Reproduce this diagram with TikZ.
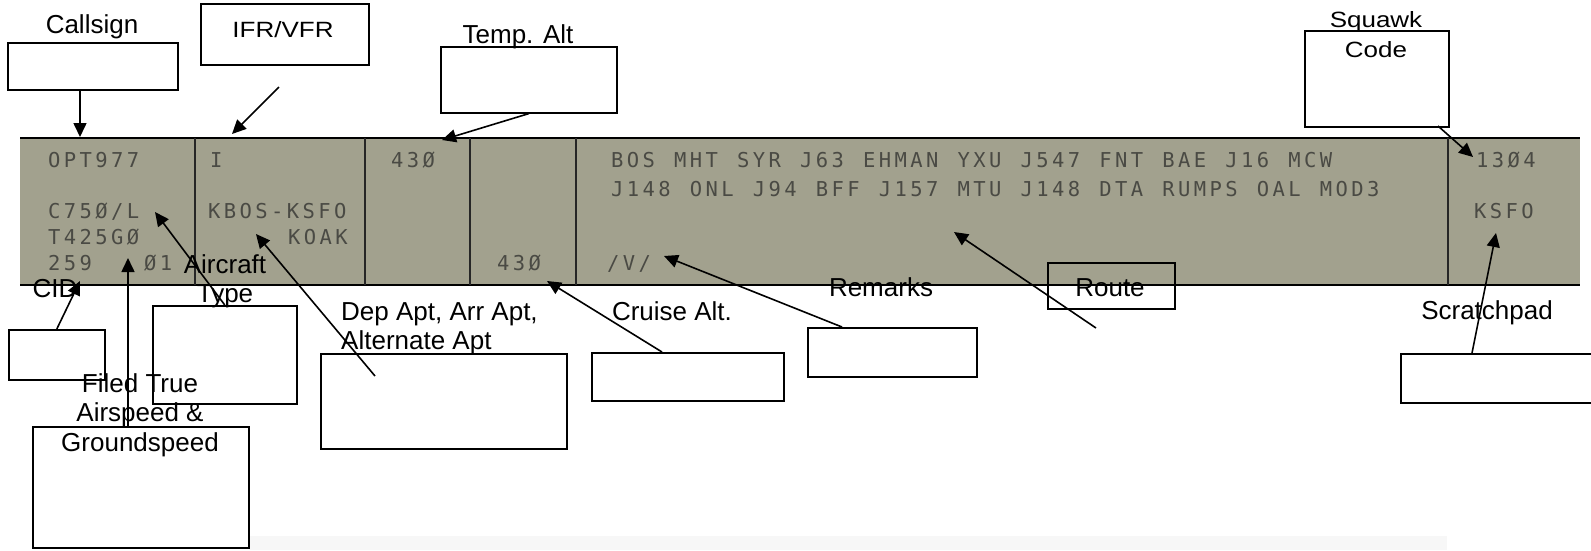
\documentclass[tikz,border=0pt]{standalone}
\usepackage{fontspec}
\usepackage{graphicx}
\setmainfont{Liberation Sans}
\newfontfamily\stripfont{DejaVu Sans Mono}
\usetikzlibrary{arrows.meta}
\definecolor{ink}{HTML}{000000}
\definecolor{strip}{HTML}{A2A18E}
\definecolor{crt}{HTML}{4A4A44}
\definecolor{haze}{HTML}{F7F7F7}

% fixed pitch cells for the strip text
\ExplSyntaxOn
\NewDocumentCommand\cells{m}{\str_map_inline:nn{#1}{\makebox[15.75pt][l]{##1}}}
\ExplSyntaxOff
\newcommand\lines[2]{\begin{tabular}[t]{@{}#1@{}}#2\end{tabular}}

\tikzset{
  field/.style={draw=ink,line width=1.6pt,inner sep=0pt,anchor=north west},
  tag/.style={font=\fontsize{26}{29.5}\selectfont,inner sep=0pt,anchor=base,text=ink},
  cell/.style={font=\stripfont\fontsize{20.5}{29}\selectfont,text=crt,inner sep=0pt,anchor=base west},
  pointer/.style={-{Triangle[length=14pt,width=13pt]},line width=1.6pt,draw=ink},
  divider/.style={line width=1.4pt,draw=ink!85}
}

\begin{document}
\begin{tikzpicture}[x=1pt,y=-1pt]
  \useasboundingbox (0,0) rectangle (1591,550);
  \fill[haze] (249,536) rectangle (1447,550);

  % flight strip
  \fill[strip] (20,138) rectangle (1580,285);
  \draw[line width=1.8pt] (20,138) -- (1580,138);
  \draw[line width=1.8pt] (20,285) -- (1580,285);
  \foreach \x in {195,365,470,576,1448}
    \draw[divider] (\x,138) -- (\x,285);

  \node[cell] (csTxt) at (48,167) {\cells{OPT977}};
  \node[cell] (typeTxt) at (48,218) {\cells{C75Ø/L}};
  \node[cell] (speedTxt) at (48,244) {\cells{T425GØ}};
  \node[cell] (cidTxt) at (48,270) {\cells{259}};
  \node[cell] (numTxt) at (144,270) {\cells{Ø1}};
  \node[cell] (ruleTxt) at (210,167) {\cells{I}};
  \node[cell] (aptTxt) at (208,218) {\cells{KBOS-KSFO}};
  \node[cell] (altnTxt) at (288,244) {\cells{KOAK}};
  \node[cell] (tempTxt) at (391,167) {\cells{43Ø}};
  \node[cell] (cruiseTxt) at (497,270) {\cells{43Ø}};
  \node[cell] (routeTxt) at (611,167) {\lines{l}{\cells{BOS MHT SYR J63 EHMAN YXU J547 FNT BAE J16 MCW}\\
    \cells{J148 ONL J94 BFF J157 MTU J148 DTA RUMPS OAL MOD3}}};
  \node[cell] (rmkTxt) at (607,270) {\cells{/V/}};
  \node[cell] (sqTxt) at (1476,167) {\cells{13Ø4}};
  \node[cell] (padTxt) at (1474,218) {\cells{KSFO}};

  % callout boxes
  \node[field,minimum width=170pt,minimum height=47pt] (callbox) at (7,42) {};
  \node[field,minimum width=168pt,minimum height=61pt] (ifrbox) at (200,3) {};
  \node[field,minimum width=176pt,minimum height=66pt] (tempbox) at (440,46) {};
  \node[field,minimum width=144pt,minimum height=96pt] (sqbox) at (1304,30) {};
  \node[field,minimum width=96pt,minimum height=50pt] (cidbox) at (8,329) {};
  \node[field,minimum width=144pt,minimum height=98pt] (typebox) at (152,305) {};
  \node[field,minimum width=216pt,minimum height=121pt] (speedbox) at (32,426) {};
  \node[field,minimum width=246pt,minimum height=95pt] (aptbox) at (320,353) {};
  \node[field,minimum width=192pt,minimum height=48pt] (cruisebox) at (591,352) {};
  \node[field,minimum width=169pt,minimum height=49pt] (rmkbox) at (807,327) {};
  \node[field,minimum width=127pt,minimum height=46pt] (routebox) at (1047,262) {};
  \node[field,minimum width=195pt,minimum height=49pt] (padbox) at (1400,353) {};

  % labels
  \node[tag] (callLbl) at (92,33) {Callsign};
  \node[tag] (ifrLbl) at (283,37) {\scalebox{1}[0.85]{IFR/VFR}};
  \node[tag] (tempLbl) at (518,43) {Temp. Alt};
  \node[tag] (sqLbl) at (1376,27) {\scalebox{1}[0.85]{\fontsize{26}{35.3}\selectfont\lines{c}{Squawk\\Code}}};
  \node[tag] (cidLbl) at (55,297) {CID};
  \node[tag] (typeLbl) at (225,273) {\lines{c}{Aircraft\\Type}};
  \node[tag] (speedLbl) at (140,392) {\lines{c}{Filed True\\Airspeed \&\\Groundspeed}};
  \node[tag,anchor=base west] (aptLbl) at (341,320) {\lines{l}{Dep Apt, Arr Apt,\\Alternate Apt}};
  \node[tag] (cruiseLbl) at (672,320) {Cruise Alt.};
  \node[tag] (rmkLbl) at (881,296) {Remarks};
  \node[tag] (routeLbl) at (1110,296) {Route};
  \node[tag] (padLbl) at (1487,319) {Scratchpad};

  % arrow ends
  \coordinate (callTip) at (80,137);
  \coordinate (ifrFoot) at (279,87);
  \coordinate (ifrTip) at (232,134);
  \coordinate (tempTip) at (442,140);
  \coordinate (sqFoot) at (1438,126);
  \coordinate (sqTip) at (1473,157);
  \coordinate (cidTip) at (80,281);
  \coordinate (typeTip) at (155,212);
  \coordinate (speedTip) at (128,258);
  \coordinate (aptFoot) at (375,376);
  \coordinate (aptTip) at (256,234);
  \coordinate (cruiseFoot) at (662,352);
  \coordinate (cruiseTip) at (547,281);
  \coordinate (rmkFoot) at (842,327);
  \coordinate (rmkTip) at (664,256);
  \coordinate (routeFoot) at (1096,328);
  \coordinate (routeTip) at (954,232);
  \coordinate (padFoot) at (1472,353);
  \coordinate (padTip) at (1496,233);

  \draw[pointer] (callbox.south -| callTip) -- (callTip);
  \draw[pointer] (ifrFoot) -- (ifrTip);
  \draw[pointer] (tempbox.south) -- (tempTip);
  \draw[pointer] (sqFoot) -- (sqTip);
  \draw[pointer] (cidbox.north) -- (cidTip);
  \draw[pointer] (typebox.north) -- (typeTip);
  \draw[pointer] (speedbox.north -| speedTip) -- (speedTip);
  \draw[pointer] (aptFoot) -- (aptTip);
  \draw[pointer] (cruiseFoot) -- (cruiseTip);
  \draw[pointer] (rmkFoot) -- (rmkTip);
  \draw[pointer] (routeFoot) -- (routeTip);
  \draw[pointer] (padFoot) -- (padTip);
\end{tikzpicture}
\end{document}
